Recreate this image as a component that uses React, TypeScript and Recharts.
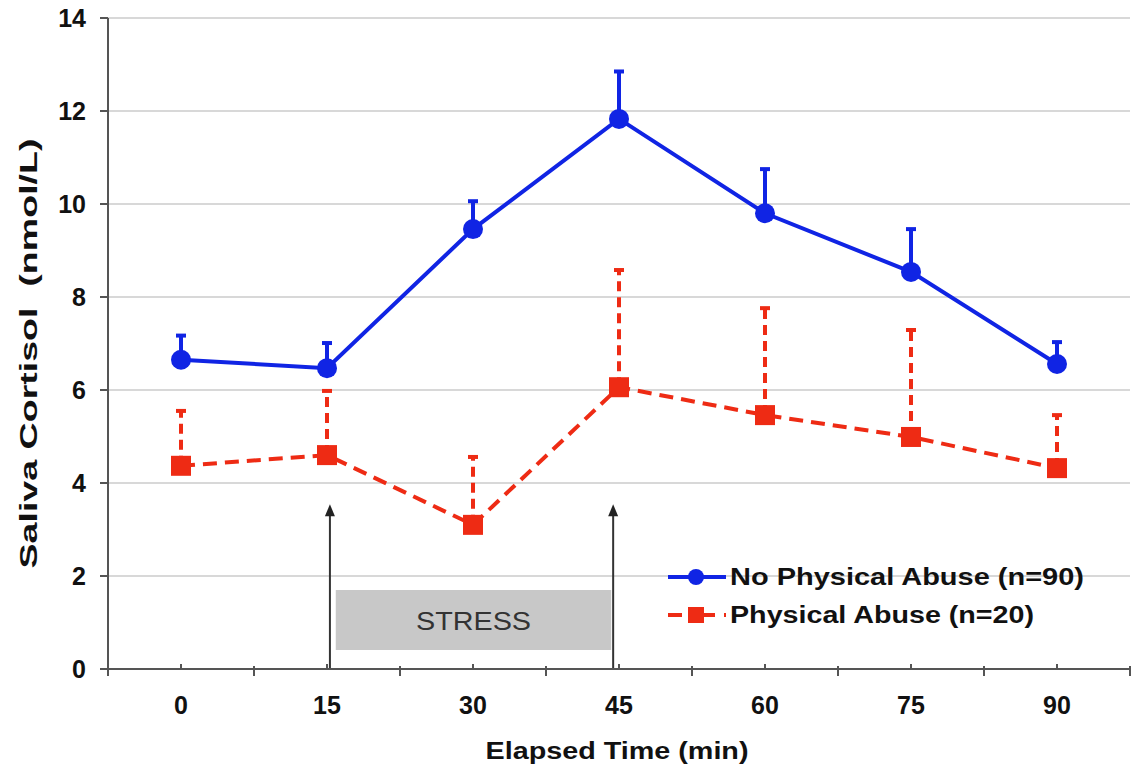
import {
    LineChart, Line, XAxis, YAxis, CartesianGrid, ErrorBar,
    ReferenceArea, ReferenceLine, Legend,
} from "recharts";

// Values
const times = [0, 15, 30, 45, 60, 75, 90];
const noAbuse = [6.65, 6.47, 9.46, 11.83, 9.8, 8.54, 6.56];
const noAbuseErr = [0.52, 0.54, 0.6, 1.02, 0.95, 0.92, 0.47];
const abuse = [4.37, 4.6, 3.1, 6.06, 5.46, 4.99, 4.32];
const abuseErr = [1.18, 1.38, 1.46, 2.52, 2.3, 2.3, 1.14];

const xTicks = [-7.5, 0, 7.5, 15, 22.5, 30, 37.5, 45, 52.5, 60, 67.5, 75, 82.5, 90, 97.5];
const yTicks = [0, 2, 4, 6, 8, 10, 12, 14];

const BLUE = "#1024e4";
const RED = "#ee2b14";
const FONT = "'Liberation Sans', Arial, sans-serif";

const data = times.map((t, i) => ({
    time: t,
    noAbuse: noAbuse[i],
    noAbuseErr: [0, noAbuseErr[i]],
    abuse: abuse[i],
    abuseErr: [0, abuseErr[i]],
}));

// the original type is stretched sideways, so text gets a fixed length
const series = [
    { name: "No Physical Abuse (n=90)", color: BLUE, dash: false, marker: "circle", len: 354 },
    { name: "Physical Abuse (n=20)", color: RED, dash: true, marker: "square", len: 304 },
];

const XTick = (props: any) => {
    const { x, y, payload } = props;
    const v = payload.value;
    const major = v % 15 === 0;
    return (
        <g>
            {major ? (
                <line x1={x} y1={y} x2={x} y2={y - 5} stroke="#555" strokeWidth={2} />
            ) : (
                <line x1={x} y1={y - 3} x2={x} y2={y + 7} stroke="#555" strokeWidth={2} />
            )}
            {major && (
                <text x={x} y={y + 45} textAnchor="middle" fill="#111" fontSize={25}
                    fontWeight="bold" fontFamily={FONT}>{v}</text>
            )}
        </g>
    );
};

const Arrow = (props: any) => {
    const { x1, y1, x2, y2 } = props;
    const top = Math.min(y1, y2);
    const bottom = Math.max(y1, y2);
    return (
        <g>
            <line x1={x1} y1={bottom} x2={x2} y2={top + 6} stroke="#333" strokeWidth={2} />
            <polygon points={`${x1 - 5},${top + 10} ${x1 + 5},${top + 10} ${x1},${top - 2}`} fill="#222" />
        </g>
    );
};

const CircleDot = (props: any) => {
    const { cx, cy } = props;
    return <circle key={`c${cx}`} cx={cx} cy={cy} r={10} fill={BLUE} />;
};

const SquareDot = (props: any) => {
    const { cx, cy } = props;
    return <rect key={`s${cx}`} x={cx - 10} y={cy - 10} width={20} height={20} fill={RED} />;
};

const LegendBox = () => (
    <svg width={430} height={76} style={{ display: "block", overflow: "visible" }}>
        {series.map((s, i) => {
            const cy = 19 + i * 38;
            return (
                <g key={s.name}>
                    <line x1={2} y1={cy} x2={60} y2={cy} stroke={s.color} strokeWidth={4}
                        strokeDasharray={s.dash ? "14 9 4 6" : undefined} />
                    {s.marker === "circle" ? (
                        <circle cx={30} cy={cy} r={8} fill={s.color} />
                    ) : (
                        <rect x={22} y={cy - 8} width={16} height={16} fill={s.color} />
                    )}
                    <text x={64} y={cy + 8} fontSize={23} fontWeight="bold" fill="#111" fontFamily={FONT}
                        textLength={s.len} lengthAdjust="spacingAndGlyphs">{s.name}</text>
                </g>
            );
        })}
    </svg>
);

export default function App() {
    return (
        <div style={{ position: "absolute", left: 0, top: 0, background: "#fff" }}>
            <LineChart width={1132} height={772} data={data}
                margin={{ top: 18, right: 2, left: 0, bottom: 0 }}>
                <CartesianGrid horizontal vertical={false} stroke="#d8d8d8" strokeWidth={2} />
                <XAxis dataKey="time" type="number" domain={[-7.5, 97.5]} ticks={xTicks}
                    interval={0} height={103} tickLine={false} tickSize={0} tickMargin={0}
                    tick={<XTick />} axisLine={{ stroke: "#555", strokeWidth: 2 }}
                    label={{
                        content: (p: any) => {
                            const vb = p.viewBox;
                            const cx = vb.x + vb.width / 2 - 2;
                            return (
                                <text x={cx} y={759} textAnchor="middle" fill="#111" fontSize={23}
                                    fontWeight="bold" fontFamily={FONT} textLength={263}
                                    lengthAdjust="spacingAndGlyphs">Elapsed Time (min)</text>
                            );
                        },
                    }} />
                <YAxis type="number" domain={[0, 14]} ticks={yTicks} interval={0} width={108}
                    tickSize={8} tickMargin={14} axisLine={{ stroke: "#555", strokeWidth: 2 }}
                    tickLine={{ stroke: "#555", strokeWidth: 2 }}
                    tick={{ fill: "#111", fontSize: 25, fontWeight: "bold", fontFamily: FONT }}
                    label={{
                        content: (p: any) => {
                            const vb = p.viewBox;
                            const cy = vb.y + vb.height / 2 + 10;
                            return (
                                <text x={37} y={cy} transform={`rotate(-90 37 ${cy})`} textAnchor="middle"
                                    fill="#111" fontSize={24} fontWeight="bold" fontFamily={FONT}
                                    textLength={430} lengthAdjust="spacingAndGlyphs"
                                    style={{ whiteSpace: "pre" }}>{"Saliva Cortisol  (nmol/L)"}</text>
                            );
                        },
                    }} />
                <ReferenceArea x1={15.9} x2={44.2} y1={0.41} y2={1.7} fill="#c8c8c8" fillOpacity={1}
                    stroke="none" ifOverflow="visible"
                    label={{
                        content: (p: any) => {
                            const vb = p.viewBox;
                            return (
                                <text x={vb.x + vb.width / 2} y={vb.y + vb.height / 2 + 10} textAnchor="middle"
                                    fill="#333" fontSize={26} fontFamily={FONT} textLength={115}
                                    lengthAdjust="spacingAndGlyphs">STRESS</text>
                            );
                        },
                    }} />
                <ReferenceLine segment={[{ x: 15.3, y: 0 }, { x: 15.3, y: 3.5 }]} shape={<Arrow />} />
                <ReferenceLine segment={[{ x: 44.4, y: 0 }, { x: 44.4, y: 3.5 }]} shape={<Arrow />} />
                <Line dataKey="abuse" stroke={RED} strokeWidth={4} strokeDasharray="14 8"
                    dot={<SquareDot />} activeDot={false} isAnimationActive={false}>
                    <ErrorBar dataKey="abuseErr" direction="y" width={5} stroke={RED} strokeWidth={4}
                        strokeDasharray="10 6" />
                </Line>
                <Line dataKey="noAbuse" stroke={BLUE} strokeWidth={4}
                    dot={<CircleDot />} activeDot={false} isAnimationActive={false}>
                    <ErrorBar dataKey="noAbuseErr" direction="y" width={5} stroke={BLUE} strokeWidth={4} />
                </Line>
                <Legend layout="vertical" align="center" verticalAlign="middle" content={<LegendBox />}
                    wrapperStyle={{ position: "absolute", left: 666, top: 558, width: "auto", height: "auto" }} />
            </LineChart>
        </div>
    );
}
